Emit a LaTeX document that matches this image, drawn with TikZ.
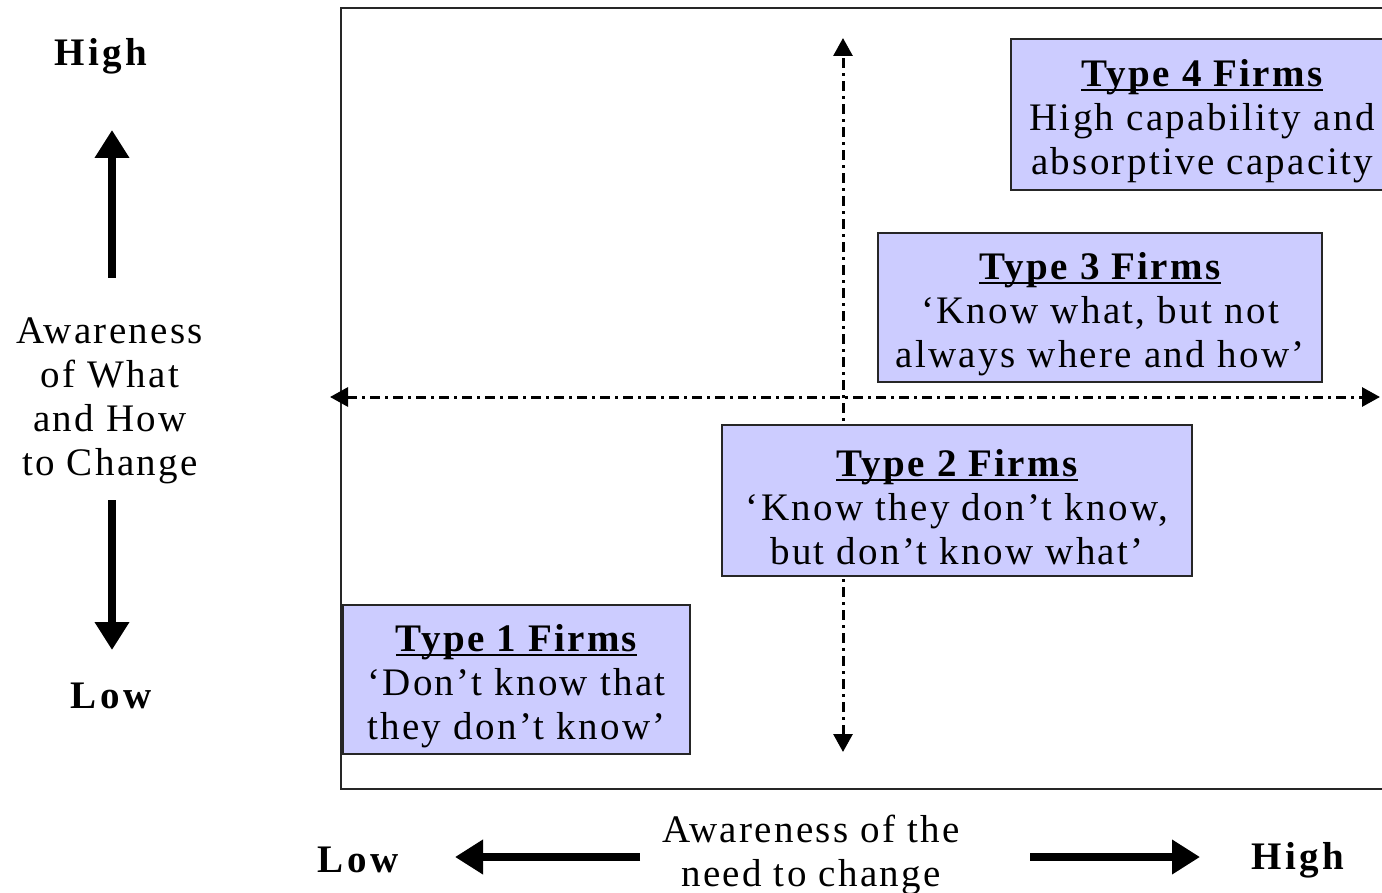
\documentclass[tikz,border=0pt]{standalone}
\usepackage{fontspec}
\setmainfont{Liberation Serif}[LetterSpace=6]
\usetikzlibrary{arrows.meta}
\definecolor{boxfill}{HTML}{CCCCFF}
\newcommand\ulttl[1]{\rule{0pt}{40pt}\setbox0\hbox{\bfseries #1}\rlap{\rule[-5pt]{\wd0}{2pt}}\box0}
\begin{document}
\begin{tikzpicture}[x=1pt,y=-1pt,
  big/.style={font=\fontsize{39}{44}\selectfont},
  firm/.style={big, draw=black!85, line width=1.6pt, fill=boxfill, align=center, inner sep=0pt},
  lbl/.style={big, align=center, inner sep=0pt},
  boldlbl/.style={lbl, font=\fontsize{39}{44}\selectfont\bfseries\addfontfeatures{LetterSpace=9}},
  dashaxis/.style={line width=3pt, dash pattern=on 10pt off 5pt on 3pt off 5pt,
     {Triangle[length=18pt,width=19pt]}-{Triangle[length=18pt,width=19pt]}},
  bigarrow/.style={line width=8pt, -{Triangle[length=28pt,width=33pt]}},
  frameline/.style={line width=2pt, black!85}]
\useasboundingbox (0,0) rectangle (1382,893);
\clip (0,0) rectangle (1382,893);
% frame
\draw[frameline] (1420,8) -- (341,8) -- (341,789) -- (1420,789);
% axes
\coordinate (vt) at (843,38);
\coordinate (vb) at (843,752);
\coordinate (hl) at (330,397);
\coordinate (hr) at (1380,397);
\draw[dashaxis] (vb) -- (vt);
\draw[dashaxis] (hl) -- (hr);
% firm boxes
\node[firm, minimum width=382pt, minimum height=151pt] (t4) at (1202,114.5)
  {\ulttl{Type 4 Firms}\\High capability and\\absorptive capacity};
\node[firm, minimum width=444pt, minimum height=149pt] (t3) at (1100,307.5)
  {\ulttl{Type 3 Firms}\\‘Know what, but not\\always where and how’};
\node[firm, minimum width=470pt, minimum height=151pt] (t2) at (957,500.5)
  {\ulttl{Type 2 Firms}\\‘Know they don’t know,\\but don’t know what’};
\node[firm, minimum width=347pt, minimum height=149pt] (t1) at (516.5,679.5)
  {\ulttl{Type 1 Firms}\\‘Don’t know that\\they don’t know’};
% left axis
\node[boldlbl] (yhigh) at (101,56) {High};
\node[boldlbl] (ylow) at (111,696) {Low};
\node[lbl] (ylab) at (110,401) {Awareness\\of What\\and How\\to Change};
\coordinate (ua0) at (112,278);
\coordinate (ua1) at (112,130);
\coordinate (da0) at (112,500);
\coordinate (da1) at (112,650);
\draw[bigarrow] (ua0) -- (ua1);
\draw[bigarrow] (da0) -- (da1);
% bottom axis
\node[boldlbl] (xlow) at (358,860) {Low};
\node[boldlbl] (xhigh) at (1298,860) {High};
\node[lbl] (xlab) at (811,855) {Awareness of the\\need to change};
\coordinate (la0) at (640,857);
\coordinate (la1) at (455,857);
\coordinate (ra0) at (1030,857);
\coordinate (ra1) at (1200,857);
\draw[bigarrow] (la0) -- (la1);
\draw[bigarrow] (ra0) -- (ra1);
\end{tikzpicture}
\end{document}
